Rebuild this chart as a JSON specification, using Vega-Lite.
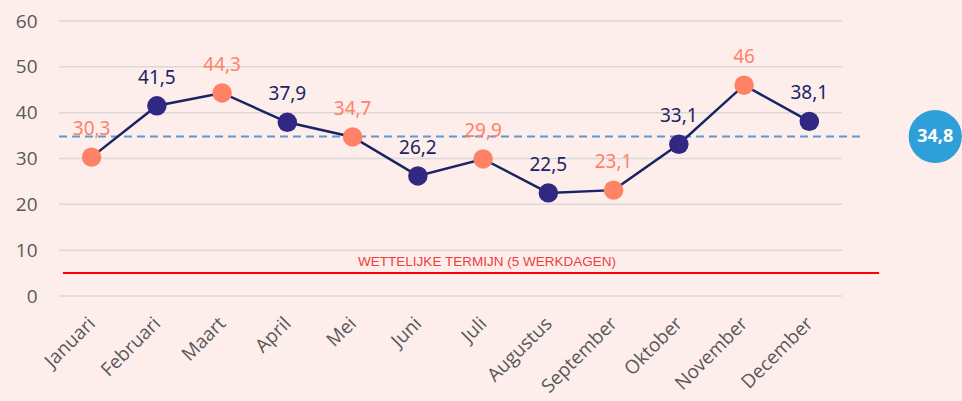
{
  "$schema": "https://vega.github.io/schema/vega-lite/v6.json",
  "autosize": "none",
  "padding": {"left": 59, "top": 21, "right": 0, "bottom": 105},
  "width": 903,
  "height": 275,
  "background": "#fdeeec",
  "config": {"view": {"stroke": null}},
  "datasets": {
    "months": [
      {"i": 0, "maand": "Januari", "waarde": 30.3, "label": "30,3", "kleur": "oranje"},
      {"i": 1, "maand": "Februari", "waarde": 41.5, "label": "41,5", "kleur": "blauw"},
      {"i": 2, "maand": "Maart", "waarde": 44.3, "label": "44,3", "kleur": "oranje"},
      {"i": 3, "maand": "April", "waarde": 37.9, "label": "37,9", "kleur": "blauw"},
      {"i": 4, "maand": "Mei", "waarde": 34.7, "label": "34,7", "kleur": "oranje"},
      {"i": 5, "maand": "Juni", "waarde": 26.2, "label": "26,2", "kleur": "blauw"},
      {"i": 6, "maand": "Juli", "waarde": 29.9, "label": "29,9", "kleur": "oranje"},
      {"i": 7, "maand": "Augustus", "waarde": 22.5, "label": "22,5", "kleur": "blauw"},
      {"i": 8, "maand": "September", "waarde": 23.1, "label": "23,1", "kleur": "oranje"},
      {"i": 9, "maand": "Oktober", "waarde": 33.1, "label": "33,1", "kleur": "blauw"},
      {"i": 10, "maand": "November", "waarde": 46, "label": "46", "kleur": "oranje"},
      {"i": 11, "maand": "December", "waarde": 38.1, "label": "38,1", "kleur": "blauw"}
    ],
    "grid": [{"g": 0}, {"g": 10}, {"g": 20}, {"g": 30}, {"g": 40}, {"g": 50}, {"g": 60}]
  },
  "layer": [
    {
      "data": {"name": "grid"},
      "mark": {"type": "rule", "color": "#d9d9d9", "strokeWidth": 1.5},
      "encoding": {
        "y": {"field": "g", "type": "quantitative"},
        "x": {"datum": -0.5, "type": "quantitative"},
        "x2": {"datum": 11.5}
      }
    },
    {
      "data": {"values": [{"v": 5, "t": "WETTELIJKE TERMIJN (5 WERKDAGEN)"}]},
      "layer": [
        {
          "mark": {"type": "rule", "color": "#ff0000", "strokeWidth": 2},
          "encoding": {
            "y": {"field": "v", "type": "quantitative"},
            "x": {"datum": -0.44, "type": "quantitative"},
            "x2": {"datum": 12.07}
          }
        },
        {
          "mark": {"type": "text", "color": "#f03c3c", "font": "Liberation Sans", "fontSize": 13.5, "dy": -11},
          "encoding": {
            "y": {"field": "v", "type": "quantitative"},
            "x": {"datum": 6.06, "type": "quantitative"},
            "text": {"field": "t"}
          }
        }
      ]
    },
    {
      "data": {"values": [{"gem": 34.8, "t": "34,8"}]},
      "layer": [
        {
          "mark": {"type": "rule", "color": "#5b9bd5", "strokeWidth": 2, "strokeDash": [8, 5]},
          "encoding": {
            "y": {"field": "gem", "type": "quantitative"},
            "x": {"datum": -0.5, "type": "quantitative"},
            "x2": {"datum": 11.81}
          }
        },
        {
          "mark": {"type": "point", "shape": "circle", "filled": true, "color": "#2e9fd8", "opacity": 1, "size": 2830, "clip": false},
          "encoding": {
            "y": {"field": "gem", "type": "quantitative"},
            "x": {"datum": 12.93, "type": "quantitative"}
          }
        },
        {
          "mark": {"type": "text", "color": "#ffffff", "font": "Open Sans", "fontWeight": "bold", "fontSize": 18},
          "encoding": {
            "y": {"field": "gem", "type": "quantitative"},
            "x": {"datum": 12.93, "type": "quantitative"},
            "text": {"field": "t"}
          }
        }
      ]
    },
    {
      "data": {"name": "months"},
      "layer": [
        {
          "mark": {"type": "line", "color": "#1b2463", "strokeWidth": 2.5},
          "encoding": {
            "x": {
              "field": "i", "type": "quantitative",
              "scale": {"domain": [-0.5, 13.34], "nice": false, "zero": false},
              "axis": {
                "values": [0, 1, 2, 3, 4, 5, 6, 7, 8, 9, 10, 11],
                "labelExpr": "['Januari','Februari','Maart','April','Mei','Juni','Juli','Augustus','September','Oktober','November','December'][datum.value]",
                "title": null, "grid": false, "domain": false, "ticks": false,
                "labelAngle": -45, "labelAlign": "right", "labelBaseline": "middle",
                "labelFont": "Open Sans", "labelFontSize": 19, "labelColor": "#595959",
                "labelPadding": 24, "labelOverlap": false, "labelBound": false, "labelFlush": false
              }
            },
            "y": {
              "field": "waarde", "type": "quantitative",
              "scale": {"domain": [0, 60], "nice": false},
              "axis": {
                "values": [0, 10, 20, 30, 40, 50, 60],
                "title": null, "grid": false, "domain": false, "ticks": false,
                "labelFont": "Open Sans", "labelFontSize": 19, "labelColor": "#595959",
                "labelPadding": 22
              }
            }
          }
        },
        {
          "mark": {"type": "point", "shape": "circle", "filled": true, "opacity": 1, "size": 380},
          "encoding": {
            "x": {"field": "i", "type": "quantitative"},
            "y": {"field": "waarde", "type": "quantitative"},
            "color": {
              "field": "kleur", "type": "nominal",
              "scale": {"domain": ["oranje", "blauw"], "range": ["#ff8266", "#312884"]},
              "legend": null
            }
          }
        },
        {
          "mark": {"type": "text", "font": "Noto Sans", "fontSize": 19, "dy": -28},
          "encoding": {
            "x": {"field": "i", "type": "quantitative"},
            "y": {"field": "waarde", "type": "quantitative"},
            "text": {"field": "label"},
            "color": {
              "field": "kleur", "type": "nominal",
              "scale": {"domain": ["oranje", "blauw"], "range": ["#ff8266", "#1b2463"]},
              "legend": null
            }
          }
        }
      ],
      "resolve": {"scale": {"color": "independent"}}
    }
  ]
}
